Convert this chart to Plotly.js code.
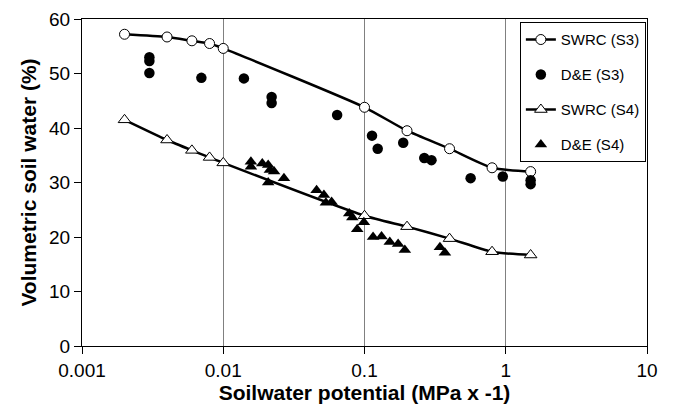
<!DOCTYPE html>
<html><head><meta charset="utf-8">
<script src="https://cdn.plot.ly/plotly-3.0.1.min.js"></script>
<style>html,body{margin:0;padding:0;background:#fff}#chart{width:673px;height:409px}</style>
</head><body><div id="chart"></div>
<script>
var swrcS3_x = [0.002,0.004,0.006,0.008,0.01,0.1,0.2,0.4,0.8,1.5];
var swrcS3_y = [57.2,56.7,56.0,55.5,54.6,43.8,39.5,36.2,32.7,32.0];
var deS3_x = [0.003,0.003,0.003,0.007,0.014,0.022,0.022,0.064,0.113,0.124,0.188,0.265,0.298,0.564,0.953,1.5,1.5];
var deS3_y = [53.0,52.3,50.1,49.2,49.1,45.7,44.6,42.4,38.6,36.2,37.3,34.5,34.1,30.8,31.1,30.4,29.7];
var swrcS4_x = [0.002,0.004,0.006,0.008,0.01,0.1,0.2,0.4,0.8,1.5];
var swrcS4_y = [41.5,37.8,35.9,34.6,33.6,23.9,21.9,19.7,17.3,16.7];
var deS4_x = [0.0157,0.0157,0.0189,0.0208,0.0214,0.0229,0.0208,0.0269,0.0458,0.0516,0.0533,0.0585,0.078,0.082,0.099,0.0888,0.115,0.132,0.151,0.173,0.193,0.342,0.371];
var deS4_y = [33.8,32.9,33.5,33.2,32.3,32.0,30.0,30.8,28.6,27.7,26.3,26.4,24.3,23.6,22.7,21.4,20.0,20.1,19.1,18.7,17.6,18.1,17.1];
var xTickVals = [0.001,0.01,0.1,1,10];
var xTickText = ['0.001','0.01','0.1','1','10'];
var yTickVals = [0,10,20,30,40,50,60];

var F = 'Liberation Sans, Arial, sans-serif';
var traces = [
 {x:swrcS3_x,y:swrcS3_y,name:'SWRC (S3)',mode:'lines+markers',type:'scatter',legendgroup:'a',
  line:{color:'#000',width:2.5,shape:'spline',smoothing:0.6},
  marker:{symbol:'circle',size:10,color:'#fff',line:{color:'#000',width:1}}},
 {x:deS3_x,y:deS3_y,name:'D&E (S3)',mode:'markers',type:'scatter',legendgroup:'b',
  marker:{symbol:'circle',size:10.5,color:'#000'}},
 {x:swrcS4_x,y:swrcS4_y,name:'SWRC (S4)',mode:'lines+markers',type:'scatter',legendgroup:'c',
  line:{color:'#000',width:2.5,shape:'spline',smoothing:0.6},
  marker:{symbol:'triangle-up',size:11,color:'#fff',line:{color:'#000',width:1}}},
 {x:deS4_x,y:deS4_y,name:'D&E (S4)',mode:'markers',type:'scatter',legendgroup:'d',
  marker:{symbol:'triangle-up',size:11,color:'#000'}}
];
var layout = {
 width:673,height:409,
 margin:{l:82,r:26,t:19,b:63},
 paper_bgcolor:'#fff',plot_bgcolor:'#fff',
 font:{family:F,size:19,color:'#000'},
 showlegend:true,
 legend:{x:0.998,xanchor:'right',y:0.99,yanchor:'top',bgcolor:'#fff',bordercolor:'#000',borderwidth:1,
   font:{family:F,size:15,color:'#000'},traceorder:'grouped',tracegroupgap:12.5,itemwidth:30},
 xaxis:{type:'log',range:[-3,1],tickvals:xTickVals,ticktext:xTickText,
   showgrid:true,gridcolor:'#808080',gridwidth:1,
   showline:true,linecolor:'#000',linewidth:1,mirror:true,
   ticks:'outside',ticklen:7,tickcolor:'#000',zeroline:false,
   tickfont:{family:F,size:19},
   title:{text:'<b>Soilwater potential (MPa x -1)</b>',font:{family:F,size:21},standoff:2}},
 yaxis:{range:[0,60],tickvals:yTickVals,showgrid:false,
   showline:true,linecolor:'#000',linewidth:1,mirror:true,
   ticks:'outside',ticklen:7,tickcolor:'#000',zeroline:false,
   tickfont:{family:F,size:19},
   title:{text:'<b>Volumetric soil water (%)</b>',font:{family:F,size:21},standoff:6}}
};
Plotly.newPlot('chart',traces,layout,{displayModeBar:false,staticPlot:true});
</script></body></html>
